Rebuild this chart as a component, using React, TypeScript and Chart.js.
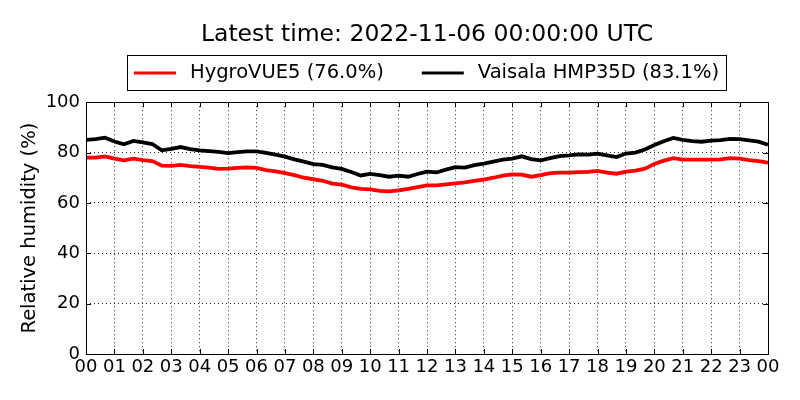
import { useEffect, useRef } from "react";
import { Chart, registerables, type ChartOptions, type Plugin } from "chart.js";

Chart.register(...registerables);

const FONT = "'DejaVu Sans', 'Liberation Sans', sans-serif";

const titleText = "Latest time: 2022-11-06 00:00:00 UTC";
const yAxisTitle = "Relative humidity (%)";
const seriesLabels = ["HygroVUE5 (76.0%)", "Vaisala HMP35D (83.1%)"];
const seriesColors = ["#ff0000", "#000000"];

const hourTicks = [
  "00", "01", "02", "03", "04", "05", "06", "07", "08", "09", "10", "11",
  "12", "13", "14", "15", "16", "17", "18", "19", "20", "21", "22", "23", "00"
];
const yTicks = [0, 20, 40, 60, 80, 100];

// sample times (hh:mm from the start of the day)
const sampleTimes = [
  "00:00", "00:20", "00:40", "01:00", "01:20", "01:40", "02:00", "02:20", "02:40",
  "03:00", "03:20", "03:40", "04:00", "04:20", "04:40", "05:00", "05:20", "05:40",
  "06:00", "06:20", "06:40", "07:00", "07:20", "07:40", "08:00", "08:20", "08:40",
  "09:00", "09:20", "09:40", "10:00", "10:20", "10:40", "11:00", "11:20", "11:40",
  "12:00", "12:20", "12:40", "13:00", "13:20", "13:40", "14:00", "14:20", "14:40",
  "15:00", "15:20", "15:40", "16:00", "16:20", "16:40", "17:00", "17:20", "17:40",
  "18:00", "18:20", "18:40", "19:00", "19:20", "19:40", "20:00", "20:20", "20:40",
  "21:00", "21:20", "21:40", "22:00", "22:20", "22:40", "23:00", "23:20", "23:40",
  "24:00"
];

const hygroVue5 = [
  78.0, 78.0, 78.5, 77.6, 76.9, 77.6, 77.0, 76.6, 74.8,
  74.7, 75.1, 74.6, 74.3, 74.0, 73.5, 73.6, 73.9, 74.1,
  73.9, 73.0, 72.5, 71.8, 71.0, 70.0, 69.4, 68.8, 67.7,
  67.3, 66.2, 65.6, 65.4, 64.8, 64.6, 65.0, 65.6, 66.3,
  67.0, 67.0, 67.4, 67.8, 68.2, 68.8, 69.3, 70.0, 70.8,
  71.3, 71.2, 70.4, 71.0, 71.8, 72.0, 72.0, 72.2, 72.3,
  72.7, 72.0, 71.6, 72.4, 72.8, 73.6, 75.5, 76.8, 77.8,
  77.2, 77.2, 77.2, 77.2, 77.3, 77.8, 77.6, 77.0, 76.6,
  76.0
];

const vaisalaHmp35d = [
  85.0, 85.3, 85.9, 84.4, 83.3, 84.6, 84.0, 83.4, 80.9,
  81.5, 82.2, 81.4, 80.9, 80.6, 80.3, 79.8, 80.2, 80.5,
  80.5, 79.9, 79.2, 78.4, 77.3, 76.4, 75.4, 75.1, 74.1,
  73.5, 72.3, 70.9, 71.5, 71.0, 70.4, 70.8, 70.4, 71.5,
  72.4, 72.1, 73.2, 74.2, 74.0, 75.0, 75.6, 76.4, 77.2,
  77.6, 78.5, 77.4, 76.9, 77.8, 78.6, 78.9, 79.3, 79.2,
  79.6, 78.9, 78.2, 79.6, 80.0, 81.2, 83.0, 84.5, 85.8,
  85.0, 84.5, 84.3, 84.7, 84.9, 85.4, 85.3, 84.8, 84.3,
  83.1
];

const toHours = (t: string) => {
  const [h, m] = t.split(":").map(Number);
  return h + m / 60;
};

// matplotlib-like frame with inward ticks on all four sides
const framePlugin: Plugin<"line"> = {
  id: "frame",
  afterDatasetsDraw(chart) {
    const { ctx, chartArea: a, scales } = chart;
    const tick = 5;
    ctx.save();
    ctx.strokeStyle = "#000";
    ctx.lineWidth = 1;
    ctx.beginPath();
    scales.x.ticks.forEach((t) => {
      const x = Math.round(scales.x.getPixelForValue(t.value)) + 0.5;
      ctx.moveTo(x, a.bottom);
      ctx.lineTo(x, a.bottom - tick);
      ctx.moveTo(x, a.top);
      ctx.lineTo(x, a.top + tick);
    });
    scales.y.ticks.forEach((t) => {
      const y = Math.round(scales.y.getPixelForValue(t.value)) + 0.5;
      ctx.moveTo(a.left, y);
      ctx.lineTo(a.left + tick, y);
      ctx.moveTo(a.right, y);
      ctx.lineTo(a.right - tick, y);
    });
    ctx.stroke();
    ctx.strokeRect(Math.round(a.left) + 0.5, Math.round(a.top) + 0.5, Math.round(a.right - a.left), Math.round(a.bottom - a.top));
    ctx.restore();
  }
};

// boxed legend above the plot
const boxedLegend: Plugin<"line"> = {
  id: "boxedLegend",
  afterDraw(chart) {
    const { ctx, chartArea } = chart;
    const lineLen = 42, gap = 14, itemGap = 38, pad = 7;
    const top = 55, h = 35;
    ctx.save();
    ctx.font = `19.5px ${FONT}`;
    const widths = chart.data.datasets.map((ds) => ctx.measureText(String(ds.label)).width);
    const total = pad * 2 + widths.reduce((s, w) => s + lineLen + gap + w, 0) + itemGap * (widths.length - 1);
    const left = Math.round((chartArea.left + chartArea.right) / 2 - total / 2);
    ctx.fillStyle = "#fff";
    ctx.fillRect(left, top, total, h);
    ctx.strokeStyle = "#000";
    ctx.lineWidth = 1;
    ctx.strokeRect(left + 0.5, top + 0.5, Math.round(total), h);
    const cy = top + h / 2 + 0.5;
    let x = left + pad;
    chart.data.datasets.forEach((ds, i) => {
      ctx.strokeStyle = String(ds.borderColor);
      ctx.lineWidth = 3;
      ctx.beginPath();
      ctx.moveTo(x, cy);
      ctx.lineTo(x + lineLen, cy);
      ctx.stroke();
      x += lineLen + gap;
      ctx.fillStyle = "#000";
      ctx.textBaseline = "middle";
      ctx.textAlign = "left";
      ctx.fillText(String(ds.label), x, cy);
      x += widths[i] + itemGap;
    });
    ctx.restore();
  }
};

export default function App() {
  const canvasRef = useRef<HTMLCanvasElement | null>(null);
  const chartRef = useRef<Chart<"line"> | null>(null);

  useEffect(() => {
    if (!canvasRef.current) return;
    if (chartRef.current) chartRef.current.destroy();

    Chart.defaults.font.family = FONT;
    Chart.defaults.color = "#000";

    const xs = sampleTimes.map(toHours);
    const series = [hygroVue5, vaisalaHmp35d];

    const options: ChartOptions<"line"> = {
      responsive: true,
      maintainAspectRatio: false,
      animation: false,
      layout: { padding: { left: 0, right: 32, top: 0, bottom: 0 } },
      elements: { point: { radius: 0 }, line: { tension: 0 } },
      scales: {
        x: {
          type: "linear",
          min: 0,
          max: 24,
          afterFit: (axis) => { axis.height = 46; },
          ticks: {
            stepSize: 1,
            autoSkip: false,
            maxRotation: 0,
            padding: 3,
            font: { size: 18 },
            callback: (v) => hourTicks[Number(v)] ?? ""
          },
          grid: { color: "rgba(0,0,0,0.85)", lineWidth: 1, drawTicks: false },
          border: { display: false, dash: [1, 3] }
        },
        y: {
          min: 0,
          max: 100,
          afterFit: (axis) => { axis.width = 86; },
          afterBuildTicks: (axis) => { axis.ticks = yTicks.map((v) => ({ value: v })); },
          ticks: { padding: 6, font: { size: 18 } },
          grid: { color: "rgba(0,0,0,0.85)", lineWidth: 1, drawTicks: false },
          border: { display: false, dash: [1, 3] },
          title: { display: true, text: yAxisTitle, font: { size: 19.5 }, padding: { top: 18, bottom: 0 } }
        }
      },
      plugins: {
        legend: { display: false },
        tooltip: { enabled: false },
        title: {
          display: true,
          text: titleText,
          fullSize: false,
          font: { size: 23.5, weight: "normal" },
          padding: { top: 21, bottom: 53 }
        }
      }
    };

    chartRef.current = new Chart(canvasRef.current, {
      type: "line",
      data: {
        datasets: series.map((values, i) => ({
          label: seriesLabels[i],
          data: values.map((y, j) => ({ x: xs[j], y })),
          borderColor: seriesColors[i],
          backgroundColor: seriesColors[i],
          borderWidth: 3.8,
          pointRadius: 0,
          fill: false
        }))
      },
      options,
      plugins: [framePlugin, boxedLegend]
    });

    return () => chartRef.current?.destroy();
  }, []);

  return (
    <div style={{ position: "fixed", left: 0, top: 0, width: 800, height: 400, background: "#fff" }}>
      <canvas ref={canvasRef} />
    </div>
  );
}
